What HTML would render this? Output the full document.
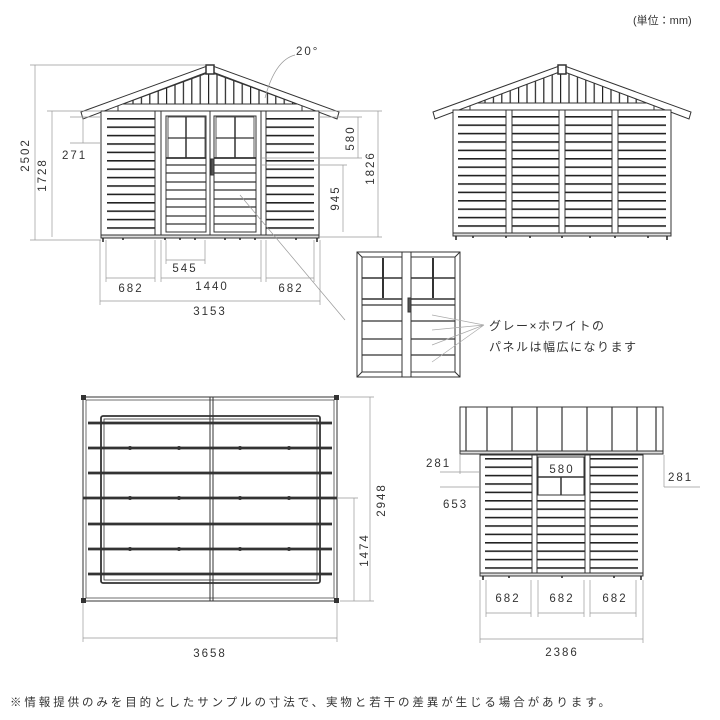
<!DOCTYPE html>
<html><head><meta charset="utf-8"><style>
html,body{margin:0;padding:0;background:#fff}
svg{display:block}
.d{font-family:"Liberation Sans",sans-serif;font-size:11.5px;fill:#333;letter-spacing:2px}
.j{font-family:"Liberation Sans","Noto Sans CJK JP",sans-serif;fill:#333}
</style></head><body>
<svg width="720" height="720" viewBox="0 0 720 720" xmlns="http://www.w3.org/2000/svg">
<defs>
<pattern id="sid" patternUnits="userSpaceOnUse" width="10" height="8.4" y="118">
<rect width="10" height="8.4" fill="#fff"/><rect y="0" width="10" height="1.6" fill="#222"/>
</pattern>
<pattern id="sid2" patternUnits="userSpaceOnUse" width="10" height="8.4" y="116">
<rect width="10" height="8.4" fill="#fff"/><rect y="0" width="10" height="1.6" fill="#222"/>
</pattern>
<pattern id="sid3" patternUnits="userSpaceOnUse" width="10" height="8.4" y="458">
<rect width="10" height="8.4" fill="#fff"/><rect y="0" width="10" height="1.6" fill="#222"/>
</pattern>
<pattern id="gab" patternUnits="userSpaceOnUse" width="8.4" height="10" x="124">
<rect width="8.4" height="10" fill="#fff"/><rect width="1.2" height="10" fill="#222"/>
</pattern>
<pattern id="gab2" patternUnits="userSpaceOnUse" width="8.4" height="10" x="476">
<rect width="8.4" height="10" fill="#fff"/><rect width="1.2" height="10" fill="#222"/>
</pattern>
</defs>

<text x="633" y="24" class="j" font-size="11">(単位：mm)</text>

<!-- FRONT VIEW -->
<g stroke="#333" stroke-width="1" fill="#fff">
<polygon points="120,105 210,72 300,105" fill="url(#gab)"/>
<rect x="118" y="104" width="184" height="7"/>
<polygon points="81,112 210,65 339,112 337,119 210,71 83,119"/>
<rect x="206" y="65" width="8" height="9" fill="#fff" stroke-width="1.5"/>
<rect x="101" y="111" width="218" height="126"/>
<rect x="107" y="118" width="48" height="114" fill="url(#sid)" stroke="none"/>
<rect x="266" y="118" width="48" height="114" fill="url(#sid)" stroke="none"/>
<rect x="155" y="111" width="6" height="126"/>
<rect x="261" y="111" width="5" height="126"/>
<rect x="161" y="111" width="49" height="126"/>
<rect x="210" y="111" width="51" height="126"/>
<rect x="166" y="116" width="40" height="116"/>
<rect x="214" y="116" width="42" height="116"/>
<rect x="168" y="117" width="37" height="41" stroke-width="0.8"/>
<rect x="216" y="117" width="38" height="41" stroke-width="0.8"/>
<line x1="186" y1="117" x2="186" y2="158" stroke-width="1.5"/>
<line x1="235" y1="117" x2="235" y2="158" stroke-width="1.5"/>
<line x1="168" y1="138" x2="205" y2="138" stroke-width="1.2"/>
<line x1="216" y1="138" x2="254" y2="138" stroke-width="1.2"/>
<path d="M166 158H206M214 158H256" stroke-width="1.8"/>
<path d="M166 165H206M166 173H206M166 182H206M166 190H206M166 199H206M166 207H206M166 216H206M166 224H206M214 165H256M214 173H256M214 182H256M214 190H256M214 199H256M214 207H256M214 216H256M214 224H256" stroke-width="1.2"/>
<rect x="211" y="159" width="3" height="16" fill="#555"/>
<rect x="101" y="235" width="218" height="3" fill="#ddd"/>
</g>
<path d="M103 238v4M317 238v4M123 238v2M165 238v2M180 238v2M195 238v2M225 238v2M240 238v2M255 238v2M296 238v2" stroke="#222" stroke-width="1.5"/>

<!-- front dims -->
<g stroke="#999" stroke-width="0.7" fill="none">
<path d="M30 65H205M35 65V240M30 240H101M47 111H101M52 111V237M70 117H101M83 117V143M70 143H101"/>
<path d="M320 117H362M358 117V158M262 158H362M260 165H347M343 165V232M320 237H382M320 111H382M378 111V237"/>
<path d="M106 240V282M155 240V282M161 240V282M261 240V282M266 240V282M314 240V282M166 240V264M205 240V264M166 260H205M106 278H155M161 278H261M266 278H314M100 240V305M320 240V305M100 301H320"/>
<path d="M240 195L345 320"/>
<path d="M265 98Q275 60 295 55"/>
</g>
<text class="d" x="296" y="55">20°</text>
<text class="d" transform="translate(29,155) rotate(-90)" text-anchor="middle">2502</text>
<text class="d" transform="translate(46,175) rotate(-90)" text-anchor="middle">1728</text>
<text class="d" x="62" y="159">271</text>
<text class="d" transform="translate(354,138) rotate(-90)" text-anchor="middle">580</text>
<text class="d" transform="translate(374,168) rotate(-90)" text-anchor="middle">1826</text>
<text class="d" transform="translate(339,198) rotate(-90)" text-anchor="middle">945</text>
<text class="d" x="185" y="272" text-anchor="middle">545</text>
<text class="d" x="131" y="292" text-anchor="middle">682</text>
<text class="d" x="212" y="290" text-anchor="middle">1440</text>
<text class="d" x="291" y="292" text-anchor="middle">682</text>
<text class="d" x="210" y="315" text-anchor="middle">3153</text>

<!-- REAR VIEW -->
<g stroke="#333" stroke-width="1" fill="#fff">
<polygon points="472,104 562,71 652,104" fill="url(#gab2)"/>
<rect x="470" y="103" width="184" height="7"/>
<polygon points="433,112 562,65 691,112 689,119 562,71 435,119"/>
<rect x="558" y="65" width="8" height="9" fill="#fff" stroke-width="1.5"/>
<rect x="453" y="110" width="218" height="125"/>
<rect x="458" y="116" width="208" height="115" fill="url(#sid2)" stroke="none"/>
<rect x="506" y="110" width="6" height="125"/>
<rect x="559" y="110" width="6" height="125"/>
<rect x="612" y="110" width="6" height="125"/>
<rect x="453" y="233" width="218" height="3" fill="#ddd"/>
</g>
<path d="M456 236v4M667 236v4M473 236v2M506 236v2M530 236v2M562 236v2M590 236v2M615 236v2M648 236v2" stroke="#222" stroke-width="1.5"/>

<!-- DOOR DETAIL -->
<g stroke="#333" stroke-width="1" fill="#fff">
<rect x="357" y="252" width="103" height="125"/>
<rect x="362" y="257" width="40" height="115"/>
<rect x="411" y="257" width="44" height="115"/>
<rect x="402" y="252" width="9" height="125"/>
<path d="M357 252L362 257M460 252L455 257M357 377L362 372M460 377L455 372"/>
<path d="M383 258V298M433 258V298" stroke-width="2"/>
<path d="M362 278H402M411 278H455M362 299H402M411 299H455" stroke-width="1.5"/>
<path d="M362 305H402M411 305H455M362 321H402M411 321H455M362 339H402M411 339H455M362 355H402M411 355H455" stroke-width="1.2"/>
<rect x="408" y="298" width="3" height="14" fill="#555"/>
</g>
<path d="M484 325L432 315M484 325L432 330M484 325L432 345M484 325L432 362" stroke="#aaa" stroke-width="0.7"/>
<text x="489" y="330" class="j" font-size="12" letter-spacing="1.5">グレー×ホワイトの</text>
<text x="489" y="351" class="j" font-size="12" letter-spacing="1.5">パネルは幅広になります</text>

<!-- FLOOR PLAN -->
<g stroke="#333" fill="none">
<rect x="83" y="397" width="254" height="204" stroke-width="1"/>
<rect x="86" y="400" width="248" height="198" stroke-width="0.7"/>
<path d="M210 397V601M213 397V601" stroke-width="1"/>
<rect x="101" y="416" width="219" height="167" stroke-width="1.8" rx="2"/>
<rect x="104" y="419" width="213" height="161" stroke-width="0.8"/>
<path d="M88 423H332M88 448H332M88 473H332M83 498H337M88 524H332M88 549H332M88 574H332" stroke-width="2.8"/>
</g>
<g fill="#333">
<rect x="81" y="395" width="5" height="5"/><rect x="334" y="395" width="5" height="5"/>
<rect x="81" y="598" width="5" height="5"/><rect x="334" y="598" width="5" height="5"/>
<circle cx="130" cy="448" r="2"/><circle cx="179" cy="448" r="2"/><circle cx="240" cy="448" r="2"/><circle cx="289" cy="448" r="2"/>
<circle cx="130" cy="498" r="2"/><circle cx="179" cy="498" r="2"/><circle cx="240" cy="498" r="2"/><circle cx="289" cy="498" r="2"/>
<circle cx="130" cy="549" r="2"/><circle cx="179" cy="549" r="2"/><circle cx="240" cy="549" r="2"/><circle cx="289" cy="549" r="2"/>
</g>
<g stroke="#999" stroke-width="0.7" fill="none">
<path d="M340 397H374M370 397V601M337 498H358M354 498V601M340 601H374M83 603V642M337 603V642M83 638H337"/>
</g>
<text class="d" transform="translate(385,500) rotate(-90)" text-anchor="middle">2948</text>
<text class="d" transform="translate(368,550) rotate(-90)" text-anchor="middle">1474</text>
<text class="d" x="210" y="657" text-anchor="middle">3658</text>

<!-- SIDE VIEW -->
<g stroke="#333" stroke-width="1" fill="#fff">
<rect x="460" y="407" width="203" height="46"/>
<path d="M487 407V452M512 407V452M537 407V452M562 407V452M587 407V452M612 407V452M637 407V452M466 407V452M656 407V452" stroke-width="1.2"/>
<rect x="460" y="451" width="203" height="3" fill="#ddd"/>
<rect x="480" y="455" width="163" height="120"/>
<rect x="485" y="458" width="153" height="114" fill="url(#sid3)" stroke="none"/>
<rect x="532" y="455" width="5" height="120"/>
<rect x="585" y="455" width="5" height="120"/>
<rect x="538" y="457" width="46" height="38"/>
<path d="M561 477V495M538 477H584" stroke-width="1.5"/>
<rect x="480" y="573" width="163" height="3" fill="#ddd"/>
</g>
<rect x="549" y="460" width="26" height="15" fill="#fff"/>
<path d="M483 576v4M641 576v4M509 576v2M562 576v2M614 576v2" stroke="#222" stroke-width="1.5"/>
<g stroke="#999" stroke-width="0.7" fill="none">
<path d="M460 455V474M440 472H480M440 487H480M664 455V487M664 487H700M486 580V617M531 580V617M538 580V617M584 580V617M590 580V617M636 580V617M486 613H531M538 613H584M590 613H636M480 580V643M643 580V643M480 639H643"/>
</g>
<text class="d" x="426" y="467">281</text>
<text class="d" x="562" y="473" text-anchor="middle">580</text>
<text class="d" x="668" y="481">281</text>
<text class="d" x="443" y="508">653</text>
<text class="d" x="508" y="602" text-anchor="middle">682</text>
<text class="d" x="562" y="602" text-anchor="middle">682</text>
<text class="d" x="615" y="602" text-anchor="middle">682</text>
<text class="d" x="562" y="656" text-anchor="middle">2386</text>

<text x="10" y="706" class="j" font-size="11.5" letter-spacing="2.9">※情報提供のみを目的としたサンプルの寸法で、実物と若干の差異が生じる場合があります。</text>
</svg>
</body></html>
